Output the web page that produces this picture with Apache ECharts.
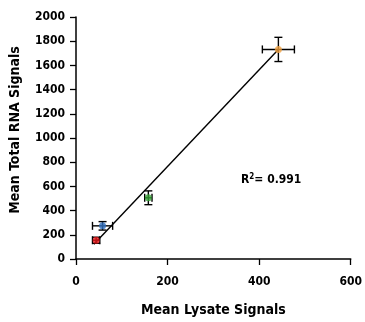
<!DOCTYPE html>
<html><head><meta charset="utf-8">
<script src="https://cdn.jsdelivr.net/npm/echarts@6/dist/echarts.min.js"></script>
<style>html,body{margin:0;padding:0;background:#fff}#c{width:365px;height:322px}</style>
</head><body><div id="c"></div>
<script>
var xMean = [44, 58, 158, 442];
var yMean = [155, 274, 506, 1732];
var xErr = [8, 22, 8, 35];
var yErr = [25, 35, 57, 100];
var pointColors = ['#e8191b', '#2f6fbf', '#3aa53a', '#f0a040'];
var fitX = [39, 442];
var fitY = [122, 1732];
var xTicks = [0, 200, 400, 600];
var yTicks = [0, 200, 400, 600, 800, 1000, 1200, 1400, 1600, 1800, 2000];

var FONT = '"DejaVu Sans Condensed", sans-serif';
var chart = echarts.init(document.getElementById('c'));
var pts = xMean.map(function(x, i){ return [x, yMean[i], xErr[i], yErr[i], i]; });

function errRender(params, api){
  var x = api.value(0), y = api.value(1), ex = api.value(2), ey = api.value(3);
  var c = api.coord([x, y]);
  var l = api.coord([x - ex, y]), r = api.coord([x + ex, y]);
  var t = api.coord([x, y + ey]), b = api.coord([x, y - ey]);
  var cap = 4;
  var st = {stroke: '#000', lineWidth: 1.4};
  return {type: 'group', children: [
    {type:'line', shape:{x1:l[0],y1:c[1],x2:r[0],y2:c[1]}, style:st},
    {type:'line', shape:{x1:l[0],y1:c[1]-cap,x2:l[0],y2:c[1]+cap}, style:st},
    {type:'line', shape:{x1:r[0],y1:c[1]-cap,x2:r[0],y2:c[1]+cap}, style:st},
    {type:'line', shape:{x1:c[0],y1:t[1],x2:c[0],y2:b[1]}, style:st},
    {type:'line', shape:{x1:c[0]-cap,y1:t[1],x2:c[0]+cap,y2:t[1]}, style:st},
    {type:'line', shape:{x1:c[0]-cap,y1:b[1],x2:c[0]+cap,y2:b[1]}, style:st}
  ]};
}

var axisLbl = {color:'#000', fontFamily: FONT, fontSize: 12, fontWeight: 'bold'};
chart.setOption({
  animation: false,
  grid: {left: 76, right: 11, top: 17, bottom: 59},
  xAxis: {
    type: 'value', min: 0, max: 600, interval: 200,
    name: 'Mean Lysate Signals', nameLocation: 'middle', nameGap: 44,
    nameTextStyle: {color:'#000', fontFamily: FONT, fontSize: 14, fontWeight: 'bold'},
    axisLine: {lineStyle: {color:'#000', width: 1.5}},
    axisTick: {show: true, length: 6, lineStyle: {color:'#000', width: 1.3}},
    axisLabel: Object.assign({margin: 17, formatter: function(v){ return xTicks.indexOf(v) >= 0 ? String(v) : ''; }}, axisLbl),
    splitLine: {show: false}
  },
  yAxis: {
    type: 'value', min: 0, max: 2000, interval: 200,
    axisLine: {show: true, lineStyle: {color:'#000', width: 1.5}},
    axisTick: {show: true, length: 6, lineStyle: {color:'#000', width: 1.3}},
    axisLabel: Object.assign({margin: 11, formatter: function(v){ return yTicks.indexOf(v) >= 0 ? String(v) : ''; }}, axisLbl),
    splitLine: {show: false}
  },
  graphic: [{
    type: 'text', x: 15, y: 130, rotation: Math.PI / 2,
    style: {text: 'Mean Total RNA Signals', fontFamily: FONT, fontSize: 14, fontWeight: 'bold', fill: '#000',
            align: 'center', verticalAlign: 'middle'}
  }, {
    type: 'text', left: 241, top: 173,
    style: {
      rich: {
        a: {fontFamily: FONT, fontSize: 12, fontWeight: 'bold', fill: '#000'},
        s: {fontFamily: FONT, fontSize: 8, fontWeight: 'bold', fill: '#000', verticalAlign: 'top', padding: [0,0,6,0]}
      },
      text: '{a|R}{s|2}{a|= 0.991}'
    }
  }],
  series: [
    {type: 'line', data: fitX.map(function(x,i){return [x, fitY[i]];}), symbol: 'none',
     lineStyle: {color:'#000', width: 1.4}, z: 2},
    {type: 'custom', renderItem: errRender, data: pts, z: 3, encode: {x: 0, y: 1}},
    {type: 'scatter', data: pts.map(function(p){ return {value: [p[0], p[1]], itemStyle: {color: pointColors[p[4]]}}; }),
     symbol: 'circle', symbolSize: 7, z: 4}
  ]
});
</script></body></html>
